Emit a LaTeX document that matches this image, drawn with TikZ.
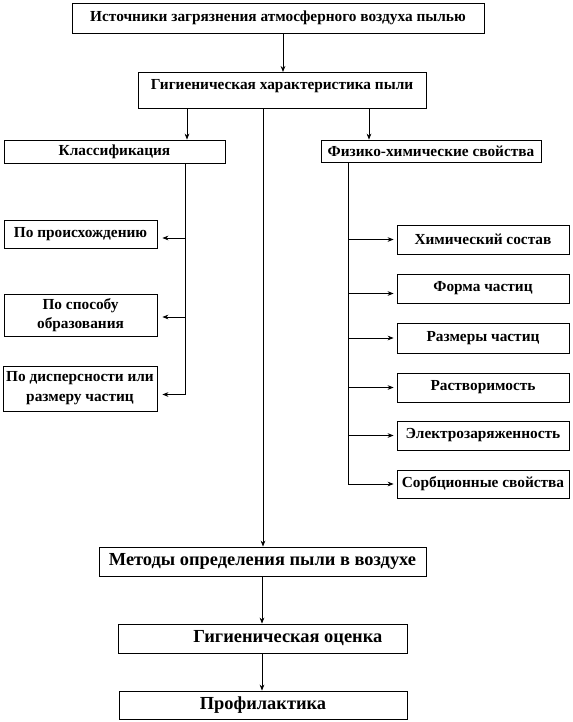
\documentclass[tikz,border=0pt]{standalone}
\usepackage{fontspec}
\setmainfont{Liberation Serif}
\usetikzlibrary{arrows.meta}
\begin{document}
\begin{tikzpicture}[x=0.75pt,y=-0.75pt,
  box/.style={draw, line width=0.6pt, inner sep=0pt, align=center, font=\bfseries\fontsize{11.5}{14}\selectfont},
  big/.style={font=\bfseries\fontsize{13.8}{16}\selectfont},
  bw/.style={minimum width=#1*0.75pt},
  bh/.style={minimum height=#1*0.75pt},
  arr/.style={-{Stealth[length=4.5pt,width=3.5pt]}, line width=0.6pt},
  ln/.style={line width=0.6pt}]
\useasboundingbox (0,0) rectangle (573,722);

% top
\node[box,bw=412,bh=30] (src) at (278,18) {Источники загрязнения атмосферного воздуха пылью};
\node[box,bw=288,anchor=north,text height=12.75pt,text depth=14.25pt] (hyg) at (282,72) {Гигиеническая характеристика пыли};

% second row
\node[box,bw=221,bh=23] (cls) at (114.5,151.5) {Классификация};
\node[box,bw=220,bh=22] (phys) at (431,151) {Физико-химические свойства};

% left column
\node[box,bw=153,bh=28] (orig) at (80.5,234) {По происхождению};
\node[box,bw=153,bh=42] (way) at (80.5,315) {По способу\\образования};
\node[box,bw=154,bh=45,font=\bfseries\fontsize{11.5}{15}\selectfont] (disp) at (80,388.5) {По дисперсности или\\размеру частиц};

% right column
\node[box,bw=172,bh=29] (chem) at (483,239.5) {Химический состав};
\node[box,bw=172,bh=29] (shape) at (483,288.5) {Форма частиц};
\node[box,bw=172,bh=30] (size) at (483,338) {Размеры частиц};
\node[box,bw=172,bh=29] (sol) at (483,387.5) {Растворимость};
\node[box,bw=172,bh=29] (elec) at (483,435.5) {Электрозаряженность};
\node[box,bw=172,bh=28] (sorb) at (483,484) {Сорбционные свойства};

% bottom
\node[box,big,bw=327,bh=29] (meth) at (262.5,561.5) {Методы определения пыли в воздухе};
\node[box,big,bw=289,bh=29] (eval) at (262.5,638.5) {\hspace*{38pt}Гигиеническая оценка};
\node[box,big,bw=288,bh=28] (prof) at (263,705) {Профилактика};

% trunks and attachment points
\coordinate (lt) at (185,0);
\coordinate (rt) at (348,0);
\coordinate (oe) at ([yshift=-3pt]orig.east);
\coordinate (we) at ([yshift=-1.5pt]way.east);
\coordinate (de) at ([yshift=-4.5pt]disp.east);
\coordinate (sw) at ([yshift=-3.75pt]shape.west);

% connectors
\draw[arr] (src.south -| 283,0) -- (hyg.north -| 283,0);
\draw[arr] (hyg.south -| 187,0) -- (cls.north -| 187,0);
\draw[arr] (hyg.south -| 369,0) -- (phys.north -| 369,0);
\draw[arr] (hyg.south -| 263,0) -- (meth.north -| 263,0);
\draw[arr] (meth.south -| 262,0) -- (eval.north -| 262,0);
\draw[arr] (eval.south -| 262,0) -- (prof.north -| 262,0);

\draw[ln] (cls.south -| lt) -- (lt |- de);
\draw[arr,shorten >=3.75pt] (lt |- oe) -- (oe);
\draw[arr,shorten >=3.75pt] (lt |- we) -- (we);
\draw[arr,shorten >=3.75pt] (lt |- de) -- (de);

\draw[ln] (phys.south -| rt) -- (rt |- sorb.west);
\draw[arr,shorten >=2.25pt] (rt |- chem.west) -- (chem.west);
\draw[arr,shorten >=2.25pt] (rt |- sw) -- (sw);
\draw[arr,shorten >=2.25pt] (rt |- size.west) -- (size.west);
\draw[arr,shorten >=2.25pt] (rt |- sol.west) -- (sol.west);
\draw[arr,shorten >=2.25pt] (rt |- elec.west) -- (elec.west);
\draw[arr,shorten >=2.25pt] (rt |- sorb.west) -- (sorb.west);
\end{tikzpicture}
\end{document}
